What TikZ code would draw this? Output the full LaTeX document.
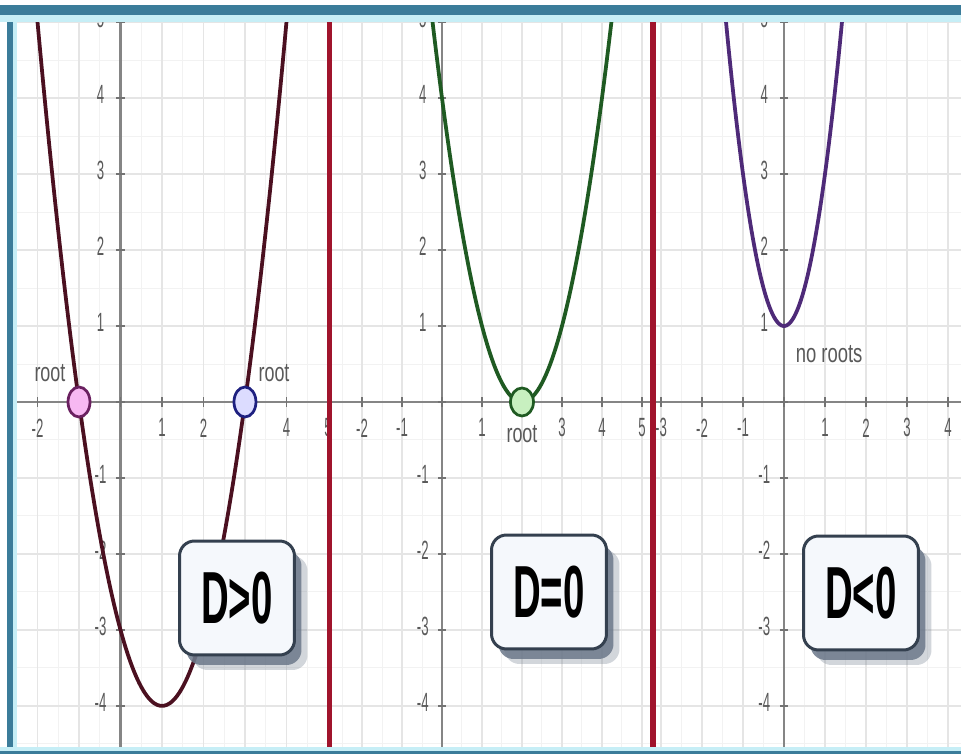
\documentclass[tikz,border=0pt]{standalone}
\usepackage{fontspec}
\setmainfont{Liberation Sans}
\usetikzlibrary{shapes.geometric,shadows,positioning}

\definecolor{frameteal}{HTML}{3B7C9A}
\definecolor{framecyan}{HTML}{C6EEF6}
\definecolor{dividerred}{HTML}{A0142C}
\definecolor{boxedge}{HTML}{34404F}
\definecolor{boxfill}{HTML}{F5F8FC}
\definecolor{shadowgray}{HTML}{6C788A}
\definecolor{curvepos}{HTML}{4B1020}
\definecolor{curvezero}{HTML}{1F5A22}
\definecolor{curveneg}{HTML}{4E2A78}
\definecolor{rootpink}{HTML}{F7B8F2}
\definecolor{rootpinkedge}{HTML}{6A2060}
\definecolor{rootblue}{HTML}{DCDCFF}
\definecolor{rootblueedge}{HTML}{1E2080}
\definecolor{rootgreen}{HTML}{C8F0C0}

\newcommand{\slim}[2]{\scalebox{#1}[1]{#2}}

% grid, axes, ticks and tick labels of one panel (#1 x labels, #2 prefix)
\newcommand{\panelaxes}[2]{%
  \foreach \k in {-4,...,5} \draw[gridminor] (\k+0.5,-5) -- (\k+0.5,6);
  \foreach \k in {-5,...,5} \draw[gridminor] (-4,\k+0.5) -- (6,\k+0.5);
  \foreach \k in {-4,...,6} \draw[gridmajor] (\k,-5) -- (\k,6);
  \foreach \k in {-5,...,6} \draw[gridmajor] (-4,\k) -- (6,\k);
  \draw[axisline] (-4,0) -- (6,0);
  \draw[axisline] (0,-5) -- (0,6);
  \foreach \k in {-4,...,6} \draw[tickmark] (\k,0.06) -- (\k,-0.06);
  \foreach \k in {-5,...,6} \draw[tickmark] (-0.1,\k) -- (0.1,\k);
  \foreach \k in {#1} \node[ticklabel] (#2x\k) at (\k,-0.34) {\slim{0.5}{\k}};
  \foreach \k in {-4,-3,-2,-1,1,2,3,4,5} \node[ticklabel] (#2y\k) at (-0.48,\k+0.05) {\slim{0.5}{\k}};
}

\begin{document}
\begin{tikzpicture}[x=0.02cm,y=0.02cm,
    gridmajor/.style={draw=black!10,line width=0.025cm},
    gridminor/.style={draw=black!5,line width=0.02cm},
    axisline/.style={draw=black!48,line width=0.05cm},
    tickmark/.style={draw=black!55,line width=0.03cm},
    ticklabel/.style={text=black!65,font=\fontsize{15}{15}\selectfont,inner sep=0pt},
    rootlabel/.style={text=black!65,font=\fontsize{15}{15}\selectfont,inner sep=0pt},
    curveline/.style={line width=0.075cm,line join=round},
    rootmark/.style={ellipse,line width=0.055cm,minimum width=0.44cm,minimum height=0.6cm,inner sep=0pt},
    discbox/.style={rectangle,rounded corners=0.3cm,draw=boxedge,fill=boxfill,line width=0.06cm,
      minimum width=2.3cm,minimum height=2.28cm,font=\fontsize{42}{42}\selectfont\bfseries,
      general shadow={shadow xshift=0.26cm,shadow yshift=-0.3cm,fill=shadowgray,opacity=0.3},
      general shadow={shadow xshift=0.14cm,shadow yshift=-0.2cm,fill=shadowgray,opacity=0.85}}
    ]

  \useasboundingbox (0,0) rectangle (961,754);
  \fill[white] (0,0) rectangle (961,754);

  % D>0
  \begin{scope}
    \clip (13,5) rectangle (327,739);
    \begin{scope}[shift={(120.5,352)},x=0.83cm,y=1.52cm]
      \panelaxes{-2,1,2,4,5}{pa}
      \draw[curveline,curvepos] plot[domain=-2.1:4.1,samples=80,smooth] (\x,{(\x-1)*(\x-1)-4});
      \node[rootmark,draw=rootpinkedge,fill=rootpink] (rootleft) at (-1,0) {};
      \node[rootmark,draw=rootblueedge,fill=rootblue] (rootright) at (3,0) {};
      \node[rootlabel] (rootlefttext) at (-1.7,0.38) {\slim{0.68}{root}};
      \node[rootlabel] (rootrighttext) at (3.7,0.38) {\slim{0.68}{root}};
    \end{scope}
  \end{scope}

  % D=0
  \begin{scope}
    \clip (332,5) rectangle (650,739);
    \begin{scope}[shift={(442,352)},x=0.8cm,y=1.52cm]
      \panelaxes{-2,-1,1,3,4,5}{pb}
      \draw[curveline,curvezero] plot[domain=-0.35:4.35,samples=80,smooth] (\x,{(\x-2)*(\x-2)});
      \node[rootmark,draw=curvezero,fill=rootgreen,minimum width=0.46cm,minimum height=0.56cm] (roottouch) at (2,0) {};
      \node[rootlabel] (roottouchtext) at (2,-0.42) {\slim{0.68}{root}};
    \end{scope}
  \end{scope}

  % D<0
  \begin{scope}
    \clip (656,5) rectangle (961,739);
    \begin{scope}[shift={(784,352)},x=0.82cm,y=1.52cm]
      \panelaxes{-3,-2,-1,1,2,3,4}{pc}
      \draw[curveline,curveneg] plot[domain=-1.5:1.5,samples=80,smooth] (\x,{2*\x*\x+1});
      \coordinate (vertexneg) at (0,1);
      \node[rootlabel] (noroots) at (1.1,0.63) {\slim{0.7}{no roots}};
    \end{scope}
  \end{scope}

  \node[discbox] (boxpos) at (237,156) {\slim{0.52}{D>0}};
  \node[discbox] (boxzero) at (549,162) {\slim{0.52}{D=0}};
  \node[discbox] (boxneg) at (861,161) {\slim{0.52}{D<0}};

  % dividers and frame
  \fill[dividerred] (327,0) rectangle (332,749);
  \fill[dividerred] (650,0) rectangle (656,749);
  \fill[framecyan] (13,0) rectangle (17,749);
  \fill[frameteal] (7,0) rectangle (13,749);
  \fill[framecyan] (0,732) rectangle (961,739);
  \fill[frameteal] (0,739) rectangle (961,749);
  \fill[framecyan] (0,3) rectangle (961,7);
  \fill[frameteal] (0,0) rectangle (961,3);

\end{tikzpicture}
\end{document}
